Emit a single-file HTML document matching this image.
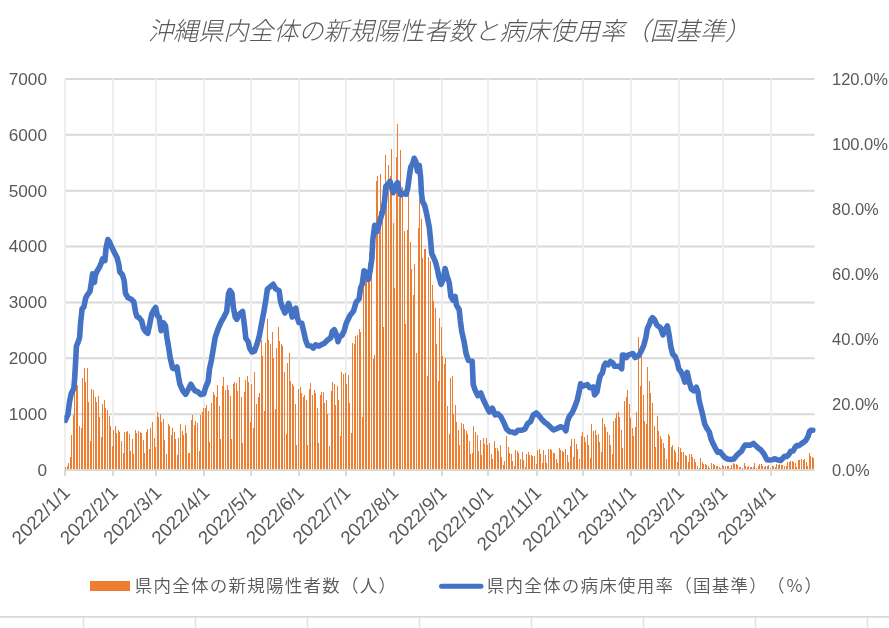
<!DOCTYPE html><html><head><meta charset="utf-8"><style>html,body{margin:0;padding:0;background:#fff;width:889px;height:628px;overflow:hidden}svg{display:block}</style></head><body>
<svg width="889" height="628" viewBox="0 0 889 628">
<rect width="889" height="628" fill="#fff"/>
<line x1="65.0" y1="414.14" x2="814.6" y2="414.14" stroke="#d9d9d9" stroke-width="2"/>
<line x1="65.0" y1="358.29" x2="814.6" y2="358.29" stroke="#d9d9d9" stroke-width="2"/>
<line x1="65.0" y1="302.43" x2="814.6" y2="302.43" stroke="#d9d9d9" stroke-width="2"/>
<line x1="65.0" y1="246.57" x2="814.6" y2="246.57" stroke="#d9d9d9" stroke-width="2"/>
<line x1="65.0" y1="190.71" x2="814.6" y2="190.71" stroke="#d9d9d9" stroke-width="2"/>
<line x1="65.0" y1="134.86" x2="814.6" y2="134.86" stroke="#d9d9d9" stroke-width="2"/>
<line x1="65.0" y1="79.00" x2="814.6" y2="79.00" stroke="#d9d9d9" stroke-width="2"/>
<rect x="64" y="79" width="2" height="391" fill="#efefef"/>
<rect x="112" y="79" width="2" height="391" fill="#efefef"/>
<rect x="155" y="79" width="2" height="391" fill="#efefef"/>
<rect x="203" y="79" width="2" height="391" fill="#efefef"/>
<rect x="250" y="79" width="2" height="391" fill="#efefef"/>
<rect x="298" y="79" width="2" height="391" fill="#efefef"/>
<rect x="345" y="79" width="2" height="391" fill="#efefef"/>
<rect x="393" y="79" width="2" height="391" fill="#efefef"/>
<rect x="441" y="79" width="2" height="391" fill="#efefef"/>
<rect x="487" y="79" width="2" height="391" fill="#efefef"/>
<rect x="536" y="79" width="2" height="391" fill="#efefef"/>
<rect x="582" y="79" width="2" height="391" fill="#efefef"/>
<rect x="630" y="79" width="2" height="391" fill="#efefef"/>
<rect x="678" y="79" width="2" height="391" fill="#efefef"/>
<rect x="722" y="79" width="2" height="391" fill="#efefef"/>
<rect x="770" y="79" width="2" height="391" fill="#efefef"/>
<path d="M65 470V467.2h1V470zM67 470V466.1h1V470zM68 470V463.1h1V470zM70 470V457.4h1V470zM71 470V435.4h1V470zM73 470V415.3h1V470zM74 470V391.8h1V470zM76 470V386.2h1V470zM77 470V384.5h1V470zM79 470V426.3h1V470zM81 470V427.8h1V470zM82 470V378.3h1V470zM84 470V368.2h1V470zM85 470V381.6h1V470zM87 470V368.2h1V470zM88 470V401.7h1V470zM90 470V440.7h1V470zM91 470V389.2h1V470zM93 470V390.2h1V470zM95 470V397.4h1V470zM96 470V401.7h1V470zM98 470V396.4h1V470zM99 470V417.0h1V470zM101 470V436.8h1V470zM102 470V404.0h1V470zM104 470V400.2h1V470zM105 470V408.4h1V470zM107 470V410.3h1V470zM109 470V415.5h1V470zM110 470V426.2h1V470zM112 470V445.6h1V470zM113 470V430.0h1V470zM115 470V426.2h1V470zM116 470V433.2h1V470zM118 470V430.0h1V470zM119 470V432.1h1V470zM121 470V441.3h1V470zM123 470V452.7h1V470zM124 470V432.1h1V470zM126 470V431.6h1V470zM127 470V431.0h1V470zM129 470V434.3h1V470zM130 470V451.1h1V470zM132 470V439.2h1V470zM133 470V454.3h1V470zM135 470V430.0h1V470zM136 470V433.2h1V470zM138 470V431.0h1V470zM140 470V432.1h1V470zM141 470V433.2h1V470zM143 470V440.2h1V470zM144 470V452.7h1V470zM146 470V432.1h1V470zM147 470V429.4h1V470zM149 470V449.4h1V470zM150 470V428.3h1V470zM152 470V422.4h1V470zM154 470V437.5h1V470zM155 470V446.7h1V470zM157 470V412.4h1V470zM158 470V416.8h1V470zM160 470V414.3h1V470zM161 470V422.4h1V470zM163 470V419.1h1V470zM164 470V440.2h1V470zM166 470V454.3h1V470zM168 470V424.3h1V470zM169 470V426.2h1V470zM171 470V434.8h1V470zM172 470V428.3h1V470zM174 470V432.4h1V470zM175 470V438.6h1V470zM177 470V455.4h1V470zM178 470V438.0h1V470zM180 470V424.0h1V470zM182 470V430.5h1V470zM183 470V435.4h1V470zM185 470V425.1h1V470zM186 470V432.7h1V470zM188 470V453.2h1V470zM189 470V452.5h1V470zM191 470V419.7h1V470zM192 470V415.4h1V470zM194 470V424.5h1V470zM195 470V421.3h1V470zM197 470V423.2h1V470zM199 470V450.5h1V470zM200 470V415.4h1V470zM202 470V411.6h1V470zM203 470V407.8h1V470zM205 470V407.9h1V470zM206 470V404.5h1V470zM208 470V410.6h1V470zM209 470V441.6h1V470zM211 470V402.6h1V470zM213 470V391.5h1V470zM214 470V394.5h1V470zM216 470V396.9h1V470zM217 470V385.4h1V470zM219 470V405.5h1V470zM220 470V438.7h1V470zM222 470V385.9h1V470zM223 470V377.3h1V470zM225 470V390.2h1V470zM227 470V384.5h1V470zM228 470V389.7h1V470zM230 470V396.4h1V470zM231 470V438.7h1V470zM233 470V384.0h1V470zM234 470V381.6h1V470zM236 470V382.6h1V470zM237 470V390.7h1V470zM239 470V377.3h1V470zM241 470V396.9h1V470zM242 470V442.6h1V470zM244 470V391.6h1V470zM245 470V379.5h1V470zM247 470V376.3h1V470zM248 470V381.9h1V470zM250 470V421.5h1V470zM251 470V383.5h1V470zM253 470V427.5h1V470zM254 470V371.5h1V470zM256 470V403.5h1V470zM258 470V396.8h1V470zM259 470V392.5h1V470zM261 470V340.0h1V470zM262 470V355.8h1V470zM264 470V410.6h1V470zM265 470V343.4h1V470zM267 470V319.2h1V470zM268 470V339.5h1V470zM270 470V344.0h1V470zM272 470V332.4h1V470zM273 470V357.7h1V470zM275 470V409.2h1V470zM276 470V348.1h1V470zM278 470V327.1h1V470zM279 470V341.0h1V470zM281 470V344.0h1V470zM282 470V346.2h1V470zM284 470V372.4h1V470zM286 470V433.5h1V470zM287 470V363.4h1V470zM289 470V353.2h1V470zM290 470V380.5h1V470zM292 470V384.4h1V470zM293 470V385.8h1V470zM295 470V404.4h1V470zM296 470V444.5h1V470zM298 470V388.7h1V470zM300 470V387.2h1V470zM301 470V393.4h1V470zM303 470V396.8h1V470zM304 470V395.4h1V470zM306 470V400.4h1V470zM307 470V445.4h1V470zM309 470V388.7h1V470zM310 470V383.4h1V470zM312 470V394.9h1V470zM314 470V389.6h1V470zM315 470V393.4h1V470zM317 470V407.8h1V470zM318 470V442.6h1V470zM320 470V395.4h1V470zM321 470V391.5h1V470zM323 470V391.5h1V470zM324 470V403.0h1V470zM326 470V399.5h1V470zM327 470V414.0h1V470zM329 470V446.4h1V470zM331 470V390.6h1V470zM332 470V381.5h1V470zM334 470V384.4h1V470zM335 470V404.9h1V470zM337 470V386.4h1V470zM338 470V399.7h1V470zM340 470V436.4h1V470zM341 470V372.4h1V470zM343 470V374.3h1V470zM345 470V373.4h1V470zM346 470V384.4h1V470zM348 470V375.2h1V470zM349 470V403.3h1V470zM351 470V433.0h1V470zM352 470V343.3h1V470zM354 470V344.4h1V470zM355 470V336.2h1V470zM357 470V335.2h1V470zM359 470V329.2h1V470zM360 470V332.2h1V470zM362 470V417.1h1V470zM363 470V285.7h1V470zM365 470V274.5h1V470zM366 470V268.9h1V470zM368 470V263.3h1V470zM369 470V251.5h1V470zM371 470V246.6h1V470zM373 470V359.2h1V470zM374 470V355.4h1V470zM376 470V181.0h1V470zM377 470V176.2h1V470zM379 470V210.8h1V470zM380 470V174.0h1V470zM382 470V196.3h1V470zM383 470V326.8h1V470zM385 470V155.4h1V470zM386 470V200.2h1V470zM388 470V165.2h1V470zM390 470V176.3h1V470zM391 470V148.6h1V470zM393 470V223.1h1V470zM394 470V287.6h1V470zM396 470V157.4h1V470zM397 470V124.2h1V470zM399 470V197.5h1V470zM400 470V150.3h1V470zM402 470V186.5h1V470zM404 470V231.3h1V470zM405 470V324.2h1V470zM407 470V230.3h1V470zM408 470V195.4h1V470zM410 470V242.1h1V470zM411 470V268.5h1V470zM413 470V295.1h1V470zM414 470V263.9h1V470zM416 470V353.2h1V470zM418 470V228.0h1V470zM419 470V199.1h1V470zM421 470V218.6h1V470zM422 470V257.7h1V470zM424 470V249.0h1V470zM425 470V249.4h1V470zM427 470V375.8h1V470zM428 470V256.9h1V470zM430 470V261.1h1V470zM432 470V285.4h1V470zM433 470V301.1h1V470zM435 470V308.2h1V470zM436 470V344.2h1V470zM438 470V381.4h1V470zM439 470V318.3h1V470zM441 470V327.1h1V470zM442 470V356.4h1V470zM444 470V363.9h1V470zM445 470V357.7h1V470zM447 470V406.4h1V470zM449 470V434.0h1V470zM450 470V377.9h1V470zM452 470V375.7h1V470zM453 470V413.5h1V470zM455 470V404.6h1V470zM456 470V421.5h1V470zM458 470V429.6h1V470zM459 470V444.7h1V470zM461 470V423.3h1V470zM463 470V424.2h1V470zM464 470V428.7h1V470zM466 470V431.3h1V470zM467 470V434.0h1V470zM469 470V440.6h1V470zM470 470V453.6h1V470zM472 470V452.7h1V470zM473 470V426.3h1V470zM475 470V432.2h1V470zM477 470V434.5h1V470zM478 470V451.3h1V470zM480 470V440.2h1V470zM481 470V454.5h1V470zM483 470V438.1h1V470zM484 470V443.8h1V470zM486 470V438.4h1V470zM487 470V444.7h1V470zM489 470V443.3h1V470zM491 470V453.7h1V470zM492 470V459.3h1V470zM494 470V441.1h1V470zM495 470V447.8h1V470zM497 470V448.2h1V470zM498 470V450.6h1V470zM500 470V445.3h1V470zM501 470V457.3h1V470zM503 470V464.7h1V470zM504 470V461.2h1V470zM506 470V436.4h1V470zM508 470V447.4h1V470zM509 470V452.6h1V470zM511 470V454.1h1V470zM512 470V461.2h1V470zM514 470V465.9h1V470zM515 470V450.2h1V470zM517 470V451.4h1V470zM518 470V452.6h1V470zM520 470V458.5h1V470zM522 470V452.2h1V470zM523 470V459.7h1V470zM525 470V466.8h1V470zM526 470V454.1h1V470zM528 470V452.2h1V470zM529 470V454.5h1V470zM531 470V455.3h1V470zM532 470V456.1h1V470zM534 470V456.3h1V470zM536 470V463.6h1V470zM537 470V450.2h1V470zM539 470V449.4h1V470zM540 470V454.1h1V470zM542 470V462.8h1V470zM543 470V450.2h1V470zM545 470V455.3h1V470zM546 470V462.8h1V470zM548 470V448.5h1V470zM550 470V449.4h1V470zM551 470V450.2h1V470zM553 470V453.2h1V470zM554 470V453.2h1V470zM556 470V459.3h1V470zM557 470V462.7h1V470zM559 470V448.3h1V470zM560 470V450.2h1V470zM562 470V450.5h1V470zM563 470V451.6h1V470zM565 470V449.4h1V470zM567 470V455.2h1V470zM568 470V461.8h1V470zM570 470V445.5h1V470zM571 470V439.1h1V470zM573 470V456.7h1V470zM574 470V439.1h1V470zM576 470V444.2h1V470zM577 470V448.6h1V470zM579 470V459.3h1V470zM581 470V435.6h1V470zM582 470V432.0h1V470zM584 470V437.3h1V470zM585 470V441.6h1V470zM587 470V435.2h1V470zM588 470V445.3h1V470zM590 470V458.4h1V470zM591 470V424.2h1V470zM593 470V430.5h1V470zM595 470V430.2h1V470zM596 470V434.8h1V470zM598 470V434.4h1V470zM599 470V441.6h1V470zM601 470V451.6h1V470zM602 470V418.4h1V470zM604 470V423.5h1V470zM605 470V426.6h1V470zM607 470V431.5h1V470zM609 470V434.5h1V470zM610 470V445.4h1V470zM612 470V453.7h1V470zM613 470V421.4h1V470zM615 470V418.3h1V470zM616 470V413.4h1V470zM618 470V412.2h1V470zM619 470V416.5h1V470zM621 470V430.4h1V470zM622 470V448.4h1V470zM624 470V401.4h1V470zM626 470V397.4h1V470zM627 470V390.2h1V470zM629 470V404.3h1V470zM630 470V417.7h1V470zM632 470V428.2h1V470zM633 470V435.5h1V470zM635 470V426.7h1V470zM636 470V412.2h1V470zM638 470V337.2h1V470zM640 470V386.2h1V470zM641 470V355.5h1V470zM643 470V395.4h1V470zM644 470V421.4h1V470zM646 470V423.9h1V470zM647 470V367.3h1V470zM649 470V381.3h1V470zM650 470V393.0h1V470zM652 470V403.4h1V470zM654 470V425.5h1V470zM655 470V446.5h1V470zM657 470V416.2h1V470zM658 470V430.6h1V470zM660 470V436.2h1V470zM661 470V438.6h1V470zM663 470V443.1h1V470zM664 470V447.8h1V470zM666 470V458.6h1V470zM668 470V433.7h1V470zM669 470V435.5h1V470zM671 470V447.2h1V470zM672 470V445.4h1V470zM674 470V450.2h1V470zM675 470V452.1h1V470zM677 470V461.9h1V470zM678 470V446.5h1V470zM680 470V448.4h1V470zM681 470V451.5h1V470zM683 470V452.1h1V470zM685 470V454.5h1V470zM686 470V456.4h1V470zM688 470V461.9h1V470zM689 470V453.7h1V470zM691 470V454.4h1V470zM692 470V457.2h1V470zM694 470V459.3h1V470zM695 470V461.5h1V470zM697 470V465.5h1V470zM699 470V467.5h1V470zM700 470V458.4h1V470zM702 470V462.4h1V470zM703 470V464.0h1V470zM705 470V464.4h1V470zM706 470V465.1h1V470zM708 470V465.5h1V470zM709 470V467.5h1V470zM711 470V463.2h1V470zM713 470V464.4h1V470zM714 470V465.1h1V470zM716 470V466.3h1V470zM717 470V465.5h1V470zM719 470V467.3h1V470zM720 470V467.5h1V470zM722 470V465.1h1V470zM723 470V465.5h1V470zM725 470V466.3h1V470zM727 470V465.5h1V470zM728 470V466.1h1V470zM730 470V467.5h1V470zM731 470V465.0h1V470zM733 470V463.2h1V470zM734 470V464.0h1V470zM736 470V464.2h1V470zM737 470V464.7h1V470zM739 470V466.7h1V470zM740 470V467.2h1V470zM742 470V468.1h1V470zM744 470V463.2h1V470zM745 470V465.5h1V470zM747 470V466.7h1V470zM748 470V466.3h1V470zM750 470V466.7h1V470zM751 470V467.2h1V470zM753 470V466.6h1V470zM754 470V463.2h1V470zM756 470V467.5h1V470zM758 470V465.5h1V470zM759 470V464.4h1V470zM761 470V464.4h1V470zM762 470V465.5h1V470zM764 470V467.3h1V470zM765 470V466.3h1V470zM767 470V465.5h1V470zM768 470V465.1h1V470zM770 470V467.5h1V470zM772 470V466.1h1V470zM773 470V465.5h1V470zM775 470V467.2h1V470zM776 470V464.0h1V470zM778 470V464.7h1V470zM779 470V464.4h1V470zM781 470V464.7h1V470zM782 470V464.7h1V470zM784 470V465.5h1V470zM786 470V466.3h1V470zM787 470V462.4h1V470zM789 470V461.6h1V470zM790 470V461.2h1V470zM792 470V461.2h1V470zM793 470V461.6h1V470zM795 470V462.8h1V470zM796 470V466.7h1V470zM798 470V460.1h1V470zM799 470V459.7h1V470zM801 470V459.2h1V470zM803 470V459.7h1V470zM804 470V459.2h1V470zM806 470V461.6h1V470zM807 470V465.5h1V470zM809 470V453.4h1V470zM810 470V456.1h1V470zM812 470V456.5h1V470zM813 470V457.7h1V470z" fill="#ED7D31" shape-rendering="crispEdges"/>
<line x1="64.0" y1="470.0" x2="814.6" y2="470.0" stroke="#d9d9d9" stroke-width="2"/>
<rect x="64" y="470" width="2" height="6" fill="#d9d9d9"/>
<rect x="112" y="470" width="2" height="6" fill="#d9d9d9"/>
<rect x="155" y="470" width="2" height="6" fill="#d9d9d9"/>
<rect x="203" y="470" width="2" height="6" fill="#d9d9d9"/>
<rect x="250" y="470" width="2" height="6" fill="#d9d9d9"/>
<rect x="298" y="470" width="2" height="6" fill="#d9d9d9"/>
<rect x="345" y="470" width="2" height="6" fill="#d9d9d9"/>
<rect x="393" y="470" width="2" height="6" fill="#d9d9d9"/>
<rect x="441" y="470" width="2" height="6" fill="#d9d9d9"/>
<rect x="487" y="470" width="2" height="6" fill="#d9d9d9"/>
<rect x="536" y="470" width="2" height="6" fill="#d9d9d9"/>
<rect x="582" y="470" width="2" height="6" fill="#d9d9d9"/>
<rect x="630" y="470" width="2" height="6" fill="#d9d9d9"/>
<rect x="678" y="470" width="2" height="6" fill="#d9d9d9"/>
<rect x="722" y="470" width="2" height="6" fill="#d9d9d9"/>
<rect x="770" y="470" width="2" height="6" fill="#d9d9d9"/>
<clipPath id="cl"><rect x="64.3" y="0" width="800" height="628"/></clipPath>
<polyline clip-path="url(#cl)" points="65.4,420.3 68.0,414.2 69.4,402.5 71.2,393.7 73.8,388.4 74.7,377.9 75.5,363.9 76.4,346.3 78.2,341.9 79.6,337.5 80.5,324.0 82.1,308.8 83.9,307.0 85.6,298.3 87.4,294.8 90.0,291.3 91.4,282.5 92.6,273.8 94.4,282.5 95.3,275.5 97.0,271.2 99.7,266.8 101.4,262.4 102.6,258.9 104.9,260.6 106.1,247.5 107.9,239.6 109.3,241.4 111.9,247.5 114.5,252.8 117.2,258.0 118.9,265.0 119.8,272.0 122.4,274.7 124.2,280.8 125.4,293.0 127.7,297.4 131.2,299.2 133.8,301.8 135.6,312.3 137.0,316.7 139.1,317.6 141.7,321.0 143.4,328.1 145.7,331.6 147.8,333.3 149.6,324.6 151.7,314.1 153.4,310.6 155.7,307.5 157.3,315.4 159.2,317.3 161.1,330.7 163.6,323.0 165.5,325.9 166.9,337.4 168.4,346.0 170.3,358.4 172.6,368.0 175.1,368.9 177.0,367.0 178.3,375.6 179.9,384.2 182.7,390.5 185.6,394.3 188.5,389.0 190.9,384.2 192.9,388.0 195.2,390.9 198.0,391.9 200.9,394.7 203.8,393.8 205.7,387.1 208.2,381.3 209.5,368.9 211.4,360.3 213.3,348.8 215.2,337.4 218.1,328.8 221.0,322.1 223.8,317.3 226.7,311.5 228.6,293.4 230.0,290.5 231.9,293.4 233.4,307.7 235.3,317.3 236.8,319.2 239.1,314.4 242.6,311.5 244.5,325.9 245.8,338.3 248.3,342.0 249.6,348.0 252.0,352.0 254.4,351.2 256.8,344.8 259.1,336.9 261.5,324.1 263.9,311.4 265.8,300.3 267.4,289.1 270.3,286.7 273.2,284.3 275.9,289.1 279.1,290.7 280.6,301.8 282.2,306.6 284.9,313.0 287.0,307.4 288.6,303.4 290.2,308.2 292.3,317.0 294.2,309.8 295.8,308.2 297.4,317.8 299.0,322.5 301.8,323.3 303.7,331.3 305.6,340.1 307.7,345.6 310.9,346.1 313.3,348.0 315.7,344.8 318.9,346.1 321.2,344.8 324.4,343.2 327.6,340.1 330.8,337.7 332.4,331.3 334.3,329.7 336.4,334.5 338.0,341.7 339.6,336.9 342.0,335.3 344.3,330.5 345.9,324.1 347.4,320.7 350.0,315.4 353.5,311.1 356.1,302.3 359.1,298.8 360.5,288.3 362.3,283.9 364.0,270.8 365.8,272.5 368.4,279.5 370.1,270.8 371.9,258.5 372.8,240.0 374.7,225.3 376.8,231.6 378.4,226.1 380.7,218.1 383.1,210.1 384.7,199.8 385.8,186.2 387.9,184.6 390.0,181.4 391.6,187.8 393.2,192.6 395.4,186.2 397.5,182.7 399.1,189.4 400.7,195.0 403.1,193.4 406.2,194.2 407.8,187.8 409.4,175.9 410.7,167.1 412.6,163.9 414.2,158.3 415.8,161.5 417.4,171.1 419.3,165.5 420.6,176.7 421.4,192.6 422.5,201.4 424.6,205.3 426.2,211.7 427.8,219.7 429.4,228.0 430.6,240.5 431.7,253.6 433.8,258.0 435.9,263.3 437.6,270.3 439.0,277.3 441.1,284.3 443.4,279.0 445.1,268.5 446.9,275.5 449.2,282.5 450.9,296.5 453.0,300.0 455.1,296.5 456.5,305.3 459.2,309.7 460.4,321.1 461.8,331.6 464.2,342.2 466.1,353.7 468.4,360.4 472.2,361.3 473.2,384.3 475.1,390.0 477.9,395.7 480.8,392.9 483.7,400.5 486.5,406.3 489.4,412.0 492.3,408.2 495.2,414.9 498.0,413.9 500.9,416.8 503.8,422.5 506.6,429.2 509.5,431.7 512.4,432.1 515.2,433.0 518.1,430.2 521.9,430.2 524.8,429.2 527.7,423.5 530.5,421.6 533.4,414.9 536.3,413.0 539.1,415.8 542.0,419.6 544.9,422.5 547.7,424.4 550.6,427.3 553.5,430.0 557.2,428.4 560.4,426.8 563.5,427.6 565.9,430.8 567.5,421.2 569.4,416.4 572.3,412.5 574.7,406.9 577.1,400.5 579.0,392.5 580.6,383.8 582.6,386.2 585.0,385.4 587.4,384.6 589.8,387.8 591.7,387.8 593.3,387.0 594.6,394.9 597.0,391.8 598.6,383.0 600.2,375.8 602.5,372.6 604.1,365.5 605.7,363.1 608.1,364.7 610.5,361.5 612.9,363.1 614.5,366.3 616.9,366.3 619.3,366.3 621.7,368.7 622.5,355.1 624.0,355.1 626.4,357.5 628.0,355.1 630.4,354.3 632.8,353.5 635.2,357.5 638.5,355.8 641.1,351.4 643.8,345.3 645.9,337.4 647.3,328.6 649.4,324.3 650.8,319.9 652.5,317.6 654.6,319.9 656.9,325.1 660.4,327.8 663.0,334.8 665.1,329.5 667.4,326.0 669.2,335.6 670.9,347.0 672.7,354.0 675.3,356.7 677.0,361.0 678.8,368.9 680.9,371.5 682.6,375.0 684.9,382.1 687.2,372.4 689.3,382.1 691.4,389.1 693.7,390.8 696.3,387.3 698.0,392.0 699.2,401.0 701.0,408.1 702.8,415.3 704.6,423.7 706.9,428.4 709.3,432.0 711.1,439.2 713.5,444.6 715.9,449.3 717.7,452.3 720.1,451.7 721.9,454.1 724.3,457.1 727.2,458.9 730.8,459.5 733.8,458.9 736.2,455.9 738.6,453.5 741.6,451.1 743.4,447.5 745.1,445.1 747.5,445.1 750.5,445.1 753.5,443.4 755.9,445.7 758.3,448.1 760.7,449.8 763.1,452.7 765.4,456.7 767.0,459.7 769.6,460.1 772.3,459.7 774.4,458.8 777.5,459.7 780.6,460.5 782.8,458.3 784.5,456.2 786.7,456.6 788.9,454.4 790.6,451.3 793.3,450.9 795.0,447.4 796.8,445.6 799.0,445.6 801.2,443.9 803.8,442.1 805.5,440.8 806.8,438.6 808.2,436.0 809.5,431.6 810.8,430.3 812.8,430.2" fill="none" stroke="#4472C4" stroke-width="5.6" stroke-linejoin="round" stroke-linecap="round"/>
<text x="47" y="475.8" text-anchor="end" font-family='"Liberation Sans", "Noto Sans CJK JP", sans-serif' font-size="17.2" fill="#595959">0</text>
<text x="47" y="419.9" text-anchor="end" font-family='"Liberation Sans", "Noto Sans CJK JP", sans-serif' font-size="17.2" fill="#595959">1000</text>
<text x="47" y="364.1" text-anchor="end" font-family='"Liberation Sans", "Noto Sans CJK JP", sans-serif' font-size="17.2" fill="#595959">2000</text>
<text x="47" y="308.2" text-anchor="end" font-family='"Liberation Sans", "Noto Sans CJK JP", sans-serif' font-size="17.2" fill="#595959">3000</text>
<text x="47" y="252.4" text-anchor="end" font-family='"Liberation Sans", "Noto Sans CJK JP", sans-serif' font-size="17.2" fill="#595959">4000</text>
<text x="47" y="196.5" text-anchor="end" font-family='"Liberation Sans", "Noto Sans CJK JP", sans-serif' font-size="17.2" fill="#595959">5000</text>
<text x="47" y="140.7" text-anchor="end" font-family='"Liberation Sans", "Noto Sans CJK JP", sans-serif' font-size="17.2" fill="#595959">6000</text>
<text x="47" y="84.8" text-anchor="end" font-family='"Liberation Sans", "Noto Sans CJK JP", sans-serif' font-size="17.2" fill="#595959">7000</text>
<text x="832" y="475.5" font-family='"Liberation Sans", "Noto Sans CJK JP", sans-serif' font-size="16.5" fill="#595959">0.0%</text>
<text x="832" y="410.3" font-family='"Liberation Sans", "Noto Sans CJK JP", sans-serif' font-size="16.5" fill="#595959">20.0%</text>
<text x="832" y="345.2" font-family='"Liberation Sans", "Noto Sans CJK JP", sans-serif' font-size="16.5" fill="#595959">40.0%</text>
<text x="832" y="280.0" font-family='"Liberation Sans", "Noto Sans CJK JP", sans-serif' font-size="16.5" fill="#595959">60.0%</text>
<text x="832" y="214.8" font-family='"Liberation Sans", "Noto Sans CJK JP", sans-serif' font-size="16.5" fill="#595959">80.0%</text>
<text x="832" y="149.7" font-family='"Liberation Sans", "Noto Sans CJK JP", sans-serif' font-size="16.5" fill="#595959">100.0%</text>
<text x="832" y="84.5" font-family='"Liberation Sans", "Noto Sans CJK JP", sans-serif' font-size="16.5" fill="#595959">120.0%</text>
<text transform="translate(71.0,494.0) rotate(-45)" text-anchor="end" font-family='"Liberation Sans", "Noto Sans CJK JP", sans-serif' font-size="18.7" fill="#595959">2022/1/1</text>
<text transform="translate(119.1,494.0) rotate(-45)" text-anchor="end" font-family='"Liberation Sans", "Noto Sans CJK JP", sans-serif' font-size="18.7" fill="#595959">2022/2/1</text>
<text transform="translate(162.5,494.0) rotate(-45)" text-anchor="end" font-family='"Liberation Sans", "Noto Sans CJK JP", sans-serif' font-size="18.7" fill="#595959">2022/3/1</text>
<text transform="translate(210.6,494.0) rotate(-45)" text-anchor="end" font-family='"Liberation Sans", "Noto Sans CJK JP", sans-serif' font-size="18.7" fill="#595959">2022/4/1</text>
<text transform="translate(257.1,494.0) rotate(-45)" text-anchor="end" font-family='"Liberation Sans", "Noto Sans CJK JP", sans-serif' font-size="18.7" fill="#595959">2022/5/1</text>
<text transform="translate(305.2,494.0) rotate(-45)" text-anchor="end" font-family='"Liberation Sans", "Noto Sans CJK JP", sans-serif' font-size="18.7" fill="#595959">2022/6/1</text>
<text transform="translate(351.7,494.0) rotate(-45)" text-anchor="end" font-family='"Liberation Sans", "Noto Sans CJK JP", sans-serif' font-size="18.7" fill="#595959">2022/7/1</text>
<text transform="translate(399.7,494.0) rotate(-45)" text-anchor="end" font-family='"Liberation Sans", "Noto Sans CJK JP", sans-serif' font-size="18.7" fill="#595959">2022/8/1</text>
<text transform="translate(447.8,494.0) rotate(-45)" text-anchor="end" font-family='"Liberation Sans", "Noto Sans CJK JP", sans-serif' font-size="18.7" fill="#595959">2022/9/1</text>
<text transform="translate(494.3,494.0) rotate(-45)" text-anchor="end" font-family='"Liberation Sans", "Noto Sans CJK JP", sans-serif' font-size="18.7" fill="#595959">2022/10/1</text>
<text transform="translate(542.4,494.0) rotate(-45)" text-anchor="end" font-family='"Liberation Sans", "Noto Sans CJK JP", sans-serif' font-size="18.7" fill="#595959">2022/11/1</text>
<text transform="translate(588.9,494.0) rotate(-45)" text-anchor="end" font-family='"Liberation Sans", "Noto Sans CJK JP", sans-serif' font-size="18.7" fill="#595959">2022/12/1</text>
<text transform="translate(637.0,494.0) rotate(-45)" text-anchor="end" font-family='"Liberation Sans", "Noto Sans CJK JP", sans-serif' font-size="18.7" fill="#595959">2023/1/1</text>
<text transform="translate(685.1,494.0) rotate(-45)" text-anchor="end" font-family='"Liberation Sans", "Noto Sans CJK JP", sans-serif' font-size="18.7" fill="#595959">2023/2/1</text>
<text transform="translate(728.5,494.0) rotate(-45)" text-anchor="end" font-family='"Liberation Sans", "Noto Sans CJK JP", sans-serif' font-size="18.7" fill="#595959">2023/3/1</text>
<text transform="translate(776.6,494.0) rotate(-45)" text-anchor="end" font-family='"Liberation Sans", "Noto Sans CJK JP", sans-serif' font-size="18.7" fill="#595959">2023/4/1</text>
<text x="449.1" y="40" text-anchor="middle" font-family='"Liberation Sans", "Noto Sans CJK JP", sans-serif' font-weight="300" font-style="italic" font-size="25.1" fill="#595959">沖縄県内全体の新規陽性者数と病床使用率（国基準）</text>
<rect x="90" y="581" width="40" height="10" fill="#ED7D31"/>
<text x="134.8" y="591.5" font-family='"Liberation Sans", "Noto Sans CJK JP", sans-serif' font-weight="350" font-size="17.5" letter-spacing="1.25" fill="#595959">県内全体の新規陽性者数（人）</text>
<line x1="441.5" y1="586.3" x2="481" y2="586.3" stroke="#4472C4" stroke-width="5" stroke-linecap="round"/>
<text x="486.8" y="591.5" font-family='"Liberation Sans", "Noto Sans CJK JP", sans-serif' font-weight="350" font-size="17.5" letter-spacing="1.25" fill="#595959">県内全体の病床使用率（国基準）<tspan dx="7.8">（％）</tspan></text>
<line x1="0" y1="616.9" x2="889" y2="616.9" stroke="#d9d9d9" stroke-width="1.8"/>
<line x1="83.5" y1="617" x2="83.5" y2="628" stroke="#e3e3e3" stroke-width="1.5"/>
<line x1="195.5" y1="617" x2="195.5" y2="628" stroke="#e3e3e3" stroke-width="1.5"/>
<line x1="307.5" y1="617" x2="307.5" y2="628" stroke="#e3e3e3" stroke-width="1.5"/>
<line x1="419.5" y1="617" x2="419.5" y2="628" stroke="#e3e3e3" stroke-width="1.5"/>
<line x1="531.5" y1="617" x2="531.5" y2="628" stroke="#e3e3e3" stroke-width="1.5"/>
<line x1="643.5" y1="617" x2="643.5" y2="628" stroke="#e3e3e3" stroke-width="1.5"/>
<line x1="755.5" y1="617" x2="755.5" y2="628" stroke="#e3e3e3" stroke-width="1.5"/>
<line x1="867.5" y1="617" x2="867.5" y2="628" stroke="#e3e3e3" stroke-width="1.5"/>
</svg></body></html>
